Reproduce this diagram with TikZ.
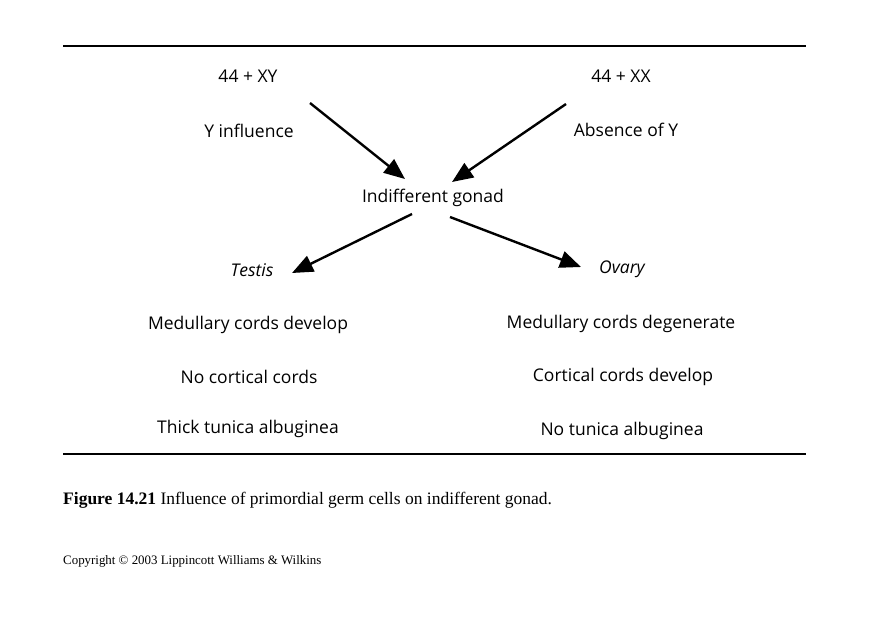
\documentclass[tikz,border=0pt]{standalone}
\usepackage{fontspec}
\setmainfont{Open Sans}
\newfontfamily\capfont{Liberation Serif}
\usetikzlibrary{arrows.meta}
\begin{document}
\begin{tikzpicture}[x=1pt, y=-1pt, font=\fontsize{17.5}{21}\selectfont, line join=round, >={Triangle[length=21pt,width=17pt]}, line width=2.4pt]
	\useasboundingbox (0,0) rectangle (872,616);
	\draw (63,46) coordinate (tl) -- (806,46) coordinate (tr);
	\draw (63,454) coordinate (bl) -- (806,454) coordinate (br);
	\node (xy) at (248,76) {44 + XY};
	\node (xx) at (621,76) {44 + XX};
	\node (yin) at (249,131) {Y influence};
	\node (noy) at (626,130) {Absence of Y};
	\node (gonad) at (433,198) {Indifferent gonad};
	\node (testis) at (252,270) {\itshape Testis};
	\node (ovary) at (622,269) {\itshape Ovary};
	\node (t1) at (248,325) {Medullary cords develop};
	\node (o1) at (621,324) {Medullary cords degenerate};
	\node (t2) at (249,377) {No cortical cords};
	\node (o2) at (623,377) {Cortical cords develop};
	\node (t3) at (248,429) {Thick tunica albuginea};
	\node (o3) at (622,431) {No tunica albuginea};
	% arrows
	\coordinate (a1) at (310,103); \coordinate (b1) at (405,179);
	\coordinate (a2) at (566,104); \coordinate (b2) at (452,182);
	\coordinate (a3) at (412,214); \coordinate (b3) at (292,273);
	\coordinate (a4) at (450,217); \coordinate (b4) at (581,267);
	\draw[->] (a1)--(b1);
	\draw[->] (a2)--(b2);
	\draw[->] (a3)--(b3);
	\draw[->] (a4)--(b4);
	% caption
	\node[anchor=west, inner sep=0pt, font=\capfont\fontsize{17.5}{21}\selectfont] (cap) at (62,500) {\textbf{Figure 14.21} Influence of primordial germ cells on indifferent gonad.};
	\node[anchor=west, inner sep=0pt, font=\capfont\fontsize{12.9}{15}\selectfont] (copy) at (62,561) {Copyright \textcopyright{} 2003 Lippincott Williams \& Wilkins};
\end{tikzpicture}
\end{document}
